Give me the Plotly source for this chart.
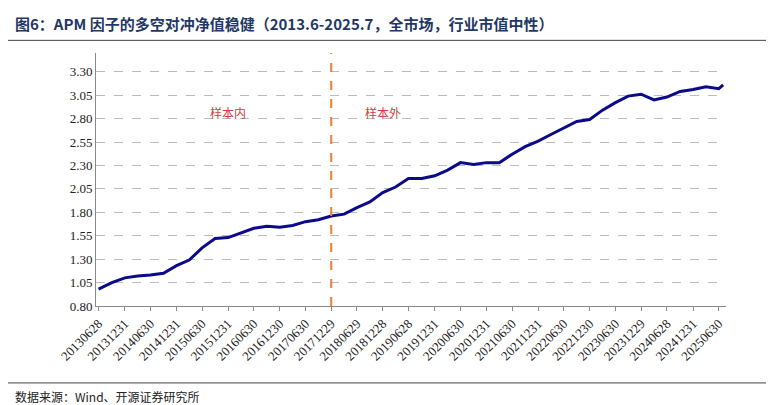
import plotly.graph_objects as go
import pandas as pd

dates = ["2013-06-28","2013-09-30","2013-12-31","2014-03-31","2014-06-30","2014-09-30","2014-12-31",
 "2015-03-31","2015-06-30","2015-09-30","2015-12-31","2016-03-31","2016-06-30","2016-09-30","2016-12-30",
 "2017-03-31","2017-06-30","2017-09-29","2017-12-29","2018-03-30","2018-06-29","2018-09-28","2018-12-28",
 "2019-03-29","2019-06-28","2019-09-30","2019-12-31","2020-03-31","2020-06-30","2020-09-30","2020-12-31",
 "2021-03-31","2021-06-30","2021-09-30","2021-12-31","2022-03-31","2022-06-30","2022-09-30","2022-12-30",
 "2023-03-31","2023-06-30","2023-09-28","2023-12-29","2024-03-29","2024-06-28","2024-09-30","2024-12-31",
 "2025-03-31","2025-06-30","2025-07-31"]
values = [0.98,1.05,1.10,1.12,1.13,1.15,1.23,1.29,1.42,1.52,1.53,1.58,1.63,1.65,1.64,1.66,1.70,1.72,1.76,
 1.78,1.85,1.91,2.01,2.07,2.16,2.16,2.19,2.25,2.33,2.31,2.33,2.33,2.42,2.50,2.56,2.63,2.70,2.77,2.79,
 2.89,2.97,3.04,3.06,3.00,3.03,3.09,3.11,3.14,3.12,3.16]
tick_labels = ["20130628","20131231","20140630","20141231","20150630","20151231","20160630","20161230",
 "20170630","20171229","20180629","20181228","20190628","20191231","20200630","20201231","20210630",
 "20211231","20220630","20221230","20230630","20231229","20240628","20241231","20250630"]
y_ticks = [0.80,1.05,1.30,1.55,1.80,2.05,2.30,2.55,2.80,3.05,3.30]
split_date = "2017-12-29"

tickvals = [pd.Timestamp(t) for t in tick_labels]
fig = go.Figure(go.Scatter(x=pd.to_datetime(dates), y=values, mode="lines",
                           line=dict(color="#0a0a8a", width=3)))
fig.add_shape(type="line", x0=split_date, x1=split_date, yref="paper", y0=0, y1=1,
              line=dict(color="#f08030", width=2, dash="dash"))
fig.add_annotation(x="2015-12-31", y=2.87, text="样本内", showarrow=False,
                   font=dict(color="#d04040", size=12, family="Noto Sans CJK SC"))
fig.add_annotation(x="2018-12-31", y=2.87, text="样本外", showarrow=False,
                   font=dict(color="#d04040", size=12, family="Noto Sans CJK SC"))
fig.add_annotation(xref="paper", yref="paper", x=-0.132, y=1.118, xanchor="left", yanchor="middle",
                   text="<b>图6：APM 因子的多空对冲净值稳健（2013.6-2025.7，全市场，行业市值中性）</b>",
                   showarrow=False, font=dict(color="#1f3864", size=15, family="Noto Sans CJK SC"))
fig.add_annotation(xref="paper", yref="paper", x=-0.132, y=-0.356, xanchor="left", yanchor="middle",
                   text="数据来源：Wind、开源证券研究所", showarrow=False,
                   font=dict(color="#222", size=12, family="Noto Sans CJK SC"))
for yy in [1.05, -0.304]:
    fig.add_shape(type="line", xref="paper", yref="paper", x0=-0.14, x1=1.089, y0=yy, y1=yy,
                  line=dict(color="#444", width=1))
fig.update_layout(
    width=774, height=405, margin=dict(l=88, r=56, t=45, b=107),
    plot_bgcolor="white", paper_bgcolor="white", showlegend=False,
    font=dict(family="Liberation Serif", size=13, color="#222"),
    xaxis=dict(tickvals=tickvals, ticktext=tick_labels, tickangle=-45, showgrid=False,
               range=[pd.Timestamp("2013-06-10"), pd.Timestamp("2025-08-20")],
               showline=True, linecolor="#888", ticks="outside", ticklen=4, tickcolor="#888"),
    yaxis=dict(range=[0.80, 3.50], tickvals=y_ticks, ticktext=[f"{v:.2f}" for v in y_ticks],
               showgrid=True, gridcolor="#bbb", griddash="dash", zeroline=False,
               showline=True, linecolor="#888"),
)
fig.write_html("out.html")
